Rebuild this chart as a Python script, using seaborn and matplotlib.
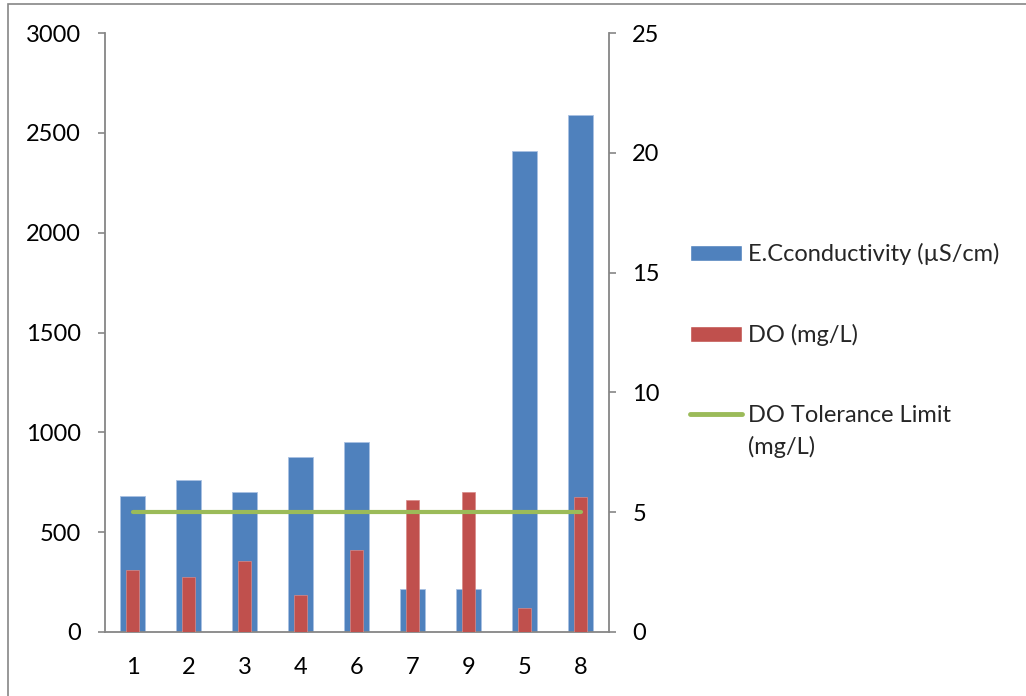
import matplotlib
matplotlib.use("Agg")
import matplotlib.pyplot as plt
from matplotlib.patches import Patch, Rectangle
from matplotlib.lines import Line2D
import numpy as np
import pandas as pd
import seaborn as sns

# data
sites = ["1", "2", "3", "4", "6", "7", "9", "5", "8"]
ec_values = [681, 763, 701, 875, 950, 215, 215, 2407, 2587]
do_values = [2.6, 2.3, 2.96, 1.54, 3.42, 5.53, 5.83, 1.01, 5.63]
do_limit = [5, 5, 5, 5, 5, 5, 5, 5, 5]
left_ticks = [0, 500, 1000, 1500, 2000, 2500, 3000]
right_ticks = [0, 5, 10, 15, 20, 25]
legend_labels = ["E.Cconductivity (µS/cm)", "DO (mg/L)", "DO Tolerance Limit"]

blue = "#4F81BD"
red = "#C0504D"
green = "#9BBB59"
gray = "#868686"
fs = 17

sns.set_style("white")
plt.rcParams["font.family"] = ["Lato", "DejaVu Sans"]

df = pd.DataFrame({"site": sites, "ec": ec_values, "do": do_values, "limit": do_limit})

fig = plt.figure(figsize=(10.26, 6.96), dpi=100)
ax = fig.add_axes([104.7 / 1026, 1 - 632 / 696, 504 / 1026, 599 / 696])
ax2 = ax.twinx()

sns.barplot(data=df, x="site", y="ec", order=sites, color=blue, saturation=1,
            width=0.45, errorbar=None, ax=ax, edgecolor="#a9c1e2", linewidth=0.6)
sns.barplot(data=df, x="site", y="do", order=sites, color=red, saturation=1,
            width=0.24, errorbar=None, ax=ax2, edgecolor="#d98a88", linewidth=0.5)
sns.lineplot(x=np.arange(len(sites)), y=df["limit"], ax=ax2, color=green, lw=3,
             solid_capstyle="round")

ax.set_xlim(-0.5, len(sites) - 0.5)
ax.set_ylim(0, 3000)
ax2.set_ylim(0, 25)
ax.set_xlabel("")
ax.set_ylabel("")
ax2.set_xlabel("")
ax2.set_ylabel("")

ax.set_xticks(range(len(sites)))
ax.set_xticklabels(sites)
ax.set_xticks(np.arange(-0.5, len(sites), 1), minor=True)
ax.tick_params(axis="x", which="major", length=0, pad=18, labelsize=fs, colors="black")
ax.tick_params(axis="x", which="minor", length=5, width=1.2, color=gray, direction="out")
ax.set_yticks(left_ticks)
ax.tick_params(axis="y", length=5, width=1.2, color=gray, direction="out", pad=12,
               labelsize=fs, labelcolor="black")
ax2.set_yticks(right_ticks)
ax2.tick_params(axis="y", length=5, width=1.2, color=gray, direction="out", pad=12,
                labelsize=fs, labelcolor="black")

for a in (ax, ax2):
    a.spines["top"].set_visible(False)
    for s in ("left", "right", "bottom"):
        a.spines[s].set_color(gray)
        a.spines[s].set_linewidth(1.3)
ax.spines["right"].set_visible(False)
ax2.spines["left"].set_visible(False)
ax2.spines["bottom"].set_visible(False)

handles = [Patch(facecolor=blue), Patch(facecolor=red),
           Line2D([0], [0], color=green, lw=3.5, solid_capstyle="round")]
leg = fig.legend(handles=handles, labels=legend_labels, loc="upper left",
                 bbox_to_anchor=(690 / 1026, 1 - 243 / 696), frameon=False, fontsize=fs,
                 handlelength=2.2, handleheight=0.64, handletextpad=0.25, labelspacing=2.5,
                 borderpad=0, borderaxespad=0)

fig.canvas.draw()
bb = leg.get_texts()[2].get_window_extent().transformed(fig.transFigure.inverted())
fig.text(bb.x0, bb.y0 - 0.014, "(mg/L)", fontsize=fs, ha="left", va="top")

fig.add_artist(Rectangle((8 / 1026, -0.1), 1.2, 1.1 - 4 / 696, transform=fig.transFigure,
                         fill=False, edgecolor=gray, lw=1.2))

fig.savefig("out.png", dpi=100)
